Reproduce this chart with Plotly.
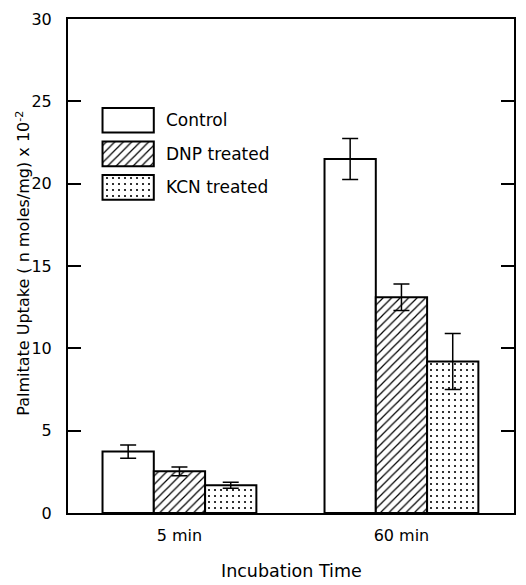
import plotly.graph_objects as go

categories = ["5 min", "60 min"]
series_names = ["Control", "DNP treated", "KCN treated"]
control = [3.73, 21.5]
control_err = [0.4, 1.25]
dnp = [2.53, 13.1]
dnp_err = [0.27, 0.8]
kcn = [1.68, 9.2]
kcn_err = [0.18, 1.7]
y_ticks = [0, 5, 10, 15, 20, 25, 30]

patterns = ["", "/", "."]
pat_size = [6, 6, 6]
pat_solid = [0.1, 0.2, 0.1]
values = [control, dnp, kcn]
errors = [control_err, dnp_err, kcn_err]

FONT = "DejaVu Sans"
fig = go.Figure()
for name, v, e, p, s, so in zip(series_names, values, errors, patterns, pat_size, pat_solid):
    fig.add_trace(go.Bar(
        x=categories, y=v, name=name,
        marker=dict(color="white", line=dict(color="black", width=2),
                    pattern=dict(shape=p, fgcolor="black", bgcolor="white",
                                 fgopacity=1, size=s, solidity=so)),
        error_y=dict(type="data", array=e, color="black", thickness=1.5, width=8),
        showlegend=False,
    ))

# legend swatches (drawn as bars on an overlay axis)
leg_base = [23.1, 21.06, 19.02]
leg_h = [1.5, 1.5, 1.5]
leg_x = [-0.231] * 3
fig.add_trace(go.Bar(
    x=leg_x, y=leg_h, base=leg_base, width=0.231, xaxis="x2",
    marker=dict(color="white", line=dict(color="black", width=2),
                pattern=dict(shape=patterns, fgcolor="black", bgcolor="white",
                             fgopacity=1, size=pat_size, solidity=pat_solid)),
    showlegend=False, hoverinfo="skip",
))
for name, b, h in zip(series_names, leg_base, leg_h):
    fig.add_annotation(x=-0.07, y=b + h / 2, xref="x2", yref="y", text=name,
                       showarrow=False, xanchor="left", yanchor="middle",
                       font=dict(family=FONT, size=17, color="black"))

fig.update_layout(
    width=526, height=585,
    margin=dict(l=68, r=10, t=12, b=72),
    plot_bgcolor="white", paper_bgcolor="white",
    barmode="group", bargap=0.307, bargroupgap=0,
    font=dict(family=FONT, color="black"),
    xaxis=dict(type="category", range=[-0.502, 1.507], showline=True, linecolor="black",
               linewidth=2, mirror=True, ticks="", showgrid=False,
               tickfont=dict(size=16), ticklabelstandoff=7),
    xaxis2=dict(overlaying="x", range=[-0.502, 1.507], visible=False),
    yaxis=dict(range=[0, 30], tickvals=y_ticks, showline=True, linecolor="black",
               linewidth=2, mirror="ticks", ticks="inside", ticklen=13, tickwidth=1.5,
               tickcolor="black", showgrid=False, zeroline=False,
               tickfont=dict(size=16), ticklabelstandoff=11),
)
fig.add_annotation(x=-0.1004, y=0.505, xref="paper", yref="paper", xanchor="center",
                   yanchor="middle", textangle=-90, showarrow=False,
                   text="Palmitate Uptake ( n moles/mg) x 10<sup>-2</sup>",
                   font=dict(family=FONT, size=16, color="black"))
fig.add_annotation(x=0.5, y=-0.1178, xref="paper", yref="paper", xanchor="center",
                   yanchor="middle", showarrow=False, text="Incubation Time",
                   font=dict(family=FONT, size=17.5, color="black"))

fig.write_html("out.html")
